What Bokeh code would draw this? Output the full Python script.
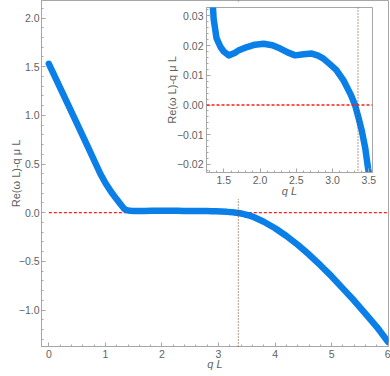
from bokeh.plotting import figure
from bokeh.models import FixedTicker, Span, GridBox, Range1d
from bokeh.layouts import column
from bokeh.embed import file_html
from bokeh.resources import INLINE

# ---- data ----
q = [0.0, 0.2, 0.44, 0.68, 0.91, 1.0, 1.1, 1.2, 1.25, 1.3, 1.33, 1.36, 1.40,
     1.455, 1.5, 1.569, 1.65, 1.7, 1.821, 1.93, 2.049, 2.17, 2.279, 2.38, 2.485,
     2.6, 2.714, 2.8, 2.874, 2.95, 3.05, 3.15, 3.25, 3.309, 3.354, 3.40, 3.45,
     3.49, 3.55, 3.6, 3.8, 4.0, 4.2, 4.4, 4.6, 4.8, 5.0, 5.2, 5.4, 5.6, 5.8, 6.0]
re_w = [1.53, 1.283, 0.986, 0.689, 0.40, 0.305, 0.215, 0.137, 0.10, 0.063,
        0.042, 0.029, 0.0225, 0.0195, 0.018, 0.0167, 0.0175, 0.0183, 0.0195,
        0.0203, 0.0206, 0.0201, 0.019, 0.0177, 0.0167, 0.0171, 0.0173, 0.0166,
        0.0156, 0.014, 0.0118, 0.0083, 0.0035, 0.0, -0.004, -0.0084, -0.0145,
        -0.0215, -0.03, -0.04, -0.093, -0.16, -0.24, -0.33, -0.43, -0.54,
        -0.655, -0.78, -0.905, -1.04, -1.175, -1.33]
q_marker = 3.35
zero_level = 0.0

main_xticks = [0, 1, 2, 3, 4, 5, 6]
main_xlabels = ["0", "1", "2", "3", "4", "5", "6"]
main_yticks = [-1.0, -0.5, 0.0, 0.5, 1.0, 1.5, 2.0]
main_ylabels = ["\u22121.0", "\u22120.5", "0.0", "0.5", "1.0", "1.5", "2.0"]
inset_xticks = [1.5, 2.0, 2.5, 3.0, 3.5]
inset_xlabels = ["1.5", "2.0", "2.5", "3.0", "3.5"]
inset_yticks = [-0.02, -0.01, 0.0, 0.01, 0.02, 0.03]
inset_ylabels = ["\u22120.02", "\u22120.01", "0.00", "0.01", "0.02", "0.03"]

xlabel = "q L"
ylabel = "Re(\u03c9 L)-q \u03bc L"

BLUE = "#0b7fe8"
RED = "#ff1a1a"
BROWN = "#7a3a10"
AXC = "#a6a6a6"
TXT = "#5f5f5f"
FONT = "Liberation Sans"


def minor(ticks, n):
    step = (ticks[1] - ticks[0]) / n
    out = []
    k = -2 * n
    while k <= (len(ticks) - 1) * n + 2 * n:
        if k % n != 0:
            out.append(ticks[0] + k * step)
        k += 1
    return out


def style_axis(ax, ticks, labels, n, tick_standoff, label_standoff):
    ax.ticker = FixedTicker(ticks=ticks, minor_ticks=minor(ticks, n))
    ax.axis_line_color = AXC
    ax.major_tick_line_color = AXC
    ax.minor_tick_line_color = AXC
    ax.major_tick_in = 4
    ax.major_tick_out = 0
    ax.minor_tick_in = 2
    ax.minor_tick_out = 0
    ax.major_label_overrides = {t: l for t, l in zip(ticks, labels)}
    ax.major_label_text_font = FONT
    ax.major_label_text_font_size = "10.5px"
    ax.major_label_text_color = TXT
    ax.major_label_standoff = tick_standoff
    ax.axis_label_text_font = FONT
    ax.axis_label_text_font_size = "11px"
    ax.axis_label_text_color = TXT
    ax.axis_label_text_font_style = "normal"
    ax.axis_label_standoff = label_standoff


# ---- main plot ----
p = figure(width=390, height=376, output_backend="svg", toolbar_location=None,
           x_range=Range1d(-0.13, 6.005), y_range=Range1d(-1.375, 2.18),
           min_border_left=41, min_border_right=2, min_border_top=0,
           min_border_bottom=30)
p.grid.visible = False
p.outline_line_color = AXC
p.background_fill_color = "white"
p.border_fill_color = "white"
style_axis(p.xaxis[0], main_xticks, main_xlabels, 5, 3, -3)
style_axis(p.yaxis[0], main_yticks, main_ylabels, 5, 2, -6)
p.xaxis[0].axis_label = xlabel
p.yaxis[0].axis_label = ylabel
p.xaxis[0].axis_label_text_font_style = "italic"

p.line([q[0], q[-1]], [zero_level, zero_level], line_color=RED, line_width=1.3,
       line_dash="3 2")
p.line(q, re_w, line_color=BLUE, line_width=6.5, line_join="round", line_cap="round")
p.add_layout(Span(location=q_marker, dimension="height", line_color=BROWN,
                  line_width=1, line_dash="1 2"))

# ---- inset ----
ins = figure(width=234, height=198, output_backend="svg", toolbar_location=None,
             x_range=Range1d(1.262, 3.55), y_range=Range1d(-0.0227, 0.0328),
             min_border_left=56, min_border_right=12, min_border_top=6,
             min_border_bottom=20)
ins.grid.visible = False
ins.outline_line_color = AXC
ins.background_fill_color = "white"
ins.border_fill_color = "white"
style_axis(ins.xaxis[0], inset_xticks, inset_xlabels, 5, 3, -2)
style_axis(ins.yaxis[0], inset_yticks, inset_ylabels, 5, 3, -4)
ins.xaxis[0].axis_label = xlabel
ins.yaxis[0].axis_label = ylabel
ins.xaxis[0].axis_label_text_font_style = "italic"

ins.add_layout(Span(location=zero_level, dimension="width", line_color=RED,
                    line_width=1.3, line_dash="3 2"))
ins.line(q, re_w, line_color=BLUE, line_width=6.5, line_join="round", line_cap="round")
ins.add_layout(Span(location=q_marker, dimension="height", line_color=BROWN,
                    line_width=1, line_dash="1 2"))
ins.margin = (1, 0, 0, 150)
p.margin = (0, 0, 0, 0)

inset_box = column(ins)

layout = GridBox(children=[(p, 0, 0), (inset_box, 0, 0)])

open("out.html", "w").write(file_html(layout, INLINE))
